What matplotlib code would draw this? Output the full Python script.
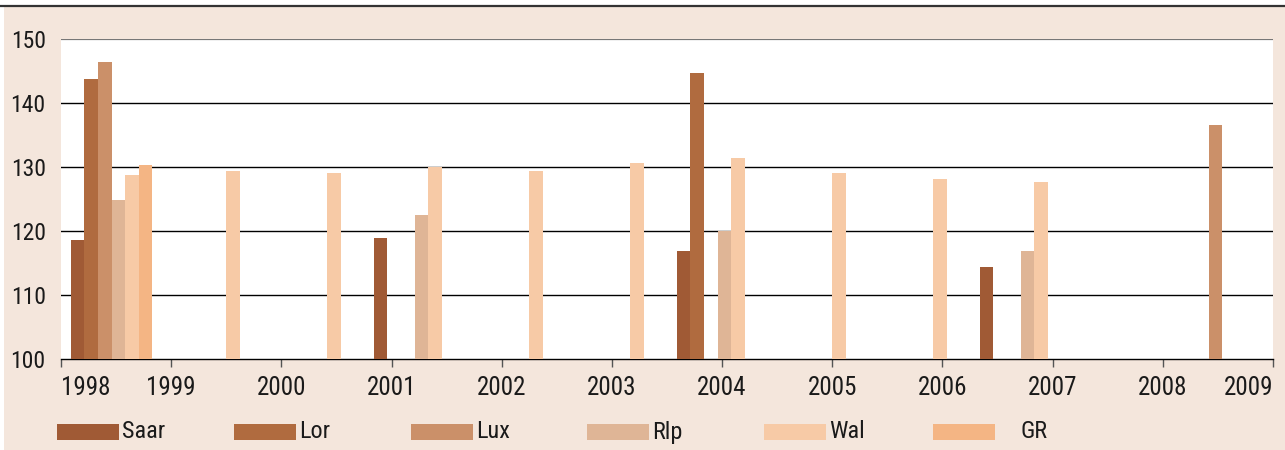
import numpy as np
import matplotlib
matplotlib.use("Agg")
import matplotlib.pyplot as plt
from matplotlib.patches import Rectangle
from matplotlib.lines import Line2D
from matplotlib import font_manager

# pick a condensed face if one is installed
names = {f.name for f in font_manager.fontManager.ttflist}
cond = [f for f in ["Liberation Sans Narrow", "Roboto Condensed", "DejaVu Sans Condensed",
                    "Open Sans Condensed"] if f in names]
plt.rcParams['font.family'] = cond + ['DejaVu Sans']

# Data: 12 groups, six series (nan = no bar)
n = np.nan
series = ["Saar", "Lor", "Lux", "Rlp", "Wal", "GR"]
saar = [118.6, n, n, 118.9, n, n, 116.8, n, n, 114.4, n, n]
lor = [143.7, n, n, n, n, n, 144.7, n, n, n, n, n]
lux = [146.4, n, n, n, n, n, n, n, n, n, n, 136.6]
rlp = [124.9, n, n, 122.5, n, n, 120.0, n, n, 116.8, n, n]
wal = [128.8, 129.4, 129.1, 130.0, 129.4, 130.7, 131.4, 129.1, 128.2, 127.7, n, n]
gr = [130.3, n, n, n, n, n, n, n, n, n, n, n]
years = ["1998", "1999", "2000", "2001", "2002", "2003", "2004",
         "2005", "2006", "2007", "2008", "2009"]
colors = ["#a05a35", "#b06b3f", "#cb9069", "#dfb596", "#f7caa6", "#f4b584"]

bg = "#f4e6dc"
fig = plt.figure(figsize=(12.85, 4.5), dpi=100)
fig.patch.set_facecolor("white")
# beige panel with dark top rule
fig.patches.append(Rectangle((4 / 1285, 0), 1 - 4 / 1285, 1 - 7 / 450,
                             transform=fig.transFigure, facecolor=bg,
                             edgecolor="none", zorder=-10))
fig.lines.append(Line2D([0, 1], [1 - 6 / 450, 1 - 6 / 450],
                        transform=fig.transFigure, color="#333333", lw=1.6))

ax = fig.add_axes([61 / 1285, 1 - 359 / 450, 1212 / 1285, 320 / 450])
ax.set_facecolor("white")

ngroups = len(years)
x = np.arange(ngroups)
w = 0.81 / 6
data = [saar, lor, lux, rlp, wal, gr]
for i, (vals, c) in enumerate(zip(data, colors)):
    v = np.array(vals, dtype=float)
    ax.bar(x + 0.5 + (i - 2.5) * w, v - 100, width=w, bottom=100,
           color=c, edgecolor="none", zorder=3)

ax.set_xlim(0, ngroups)
ax.set_ylim(100, 150)
ax.set_yticks([100, 110, 120, 130, 140, 150])
for yv in [110, 120, 130, 140]:
    ax.axhline(yv, color="black", lw=1.0, zorder=1)
ax.axhline(150, color="#777777", lw=1.6, zorder=1)

ticks = np.linspace(0, ngroups, ngroups)
ax.set_xticks(ticks)
ax.set_xticklabels(years)
labels = ax.get_xticklabels()
labels[0].set_horizontalalignment("left")
labels[-1].set_horizontalalignment("right")

for s in ["top", "right", "left"]:
    ax.spines[s].set_visible(False)
ax.spines["bottom"].set_color("black")
ax.spines["bottom"].set_linewidth(1.0)
ax.tick_params(axis="x", length=6, width=1, color="#555555", labelsize=18,
               pad=6, direction="out", labelcolor="#1a1a1a")
ax.tick_params(axis="y", length=0, labelsize=17, pad=11, labelcolor="#1a1a1a")

# legend
lx = [57, 234, 411, 587, 764, 933]
tx = [122, 299, 476, 652, 829, 1021]
for name, c, bx, t in zip(series, colors, lx, tx):
    fig.patches.append(Rectangle((bx / 1285, 1 - 440 / 450), 62 / 1285, 16 / 450,
                                 transform=fig.transFigure, facecolor=c,
                                 edgecolor="none"))
    fig.text(t / 1285, 1 - 432 / 450, name, fontsize=17.5, va="center", ha="left",
             color="#1a1a1a")

fig.savefig("out.png", dpi=100, facecolor=fig.get_facecolor())
